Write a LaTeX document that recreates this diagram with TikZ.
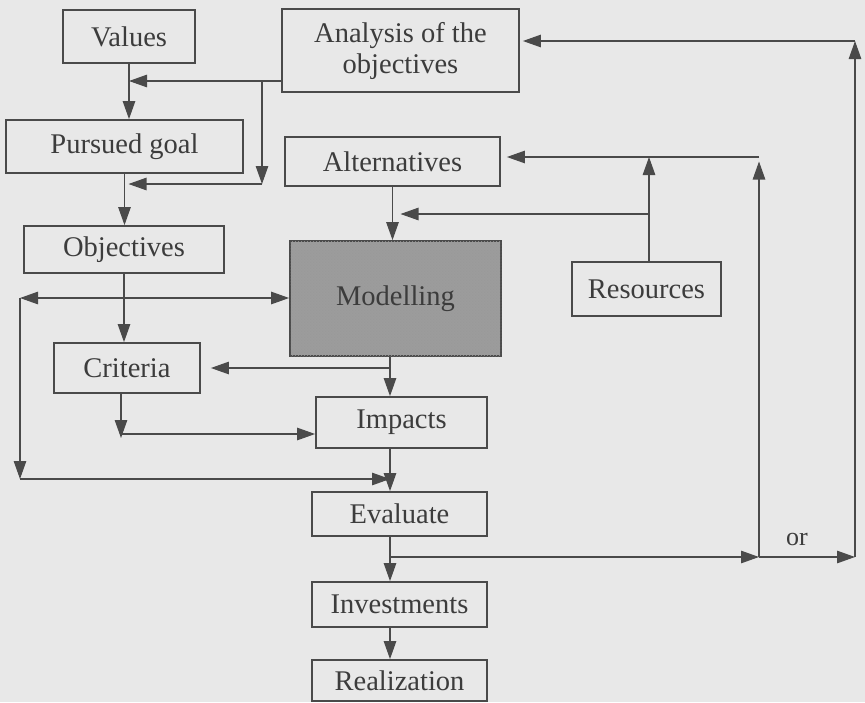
\documentclass[tikz,border=0pt]{standalone}
\usepackage{fontspec}
\setmainfont{Liberation Serif}
\usetikzlibrary{arrows.meta,patterns}

\definecolor{paper}{HTML}{E8E8E8}
\definecolor{ink}{HTML}{4A4A4A}
\definecolor{inktext}{HTML}{3C3C3C}
\definecolor{shade}{HTML}{9C9C9C}

\def \boxline {1.8pt}
\def \linkline {1.1pt}

\begin{document}
\begin{tikzpicture}[x=1pt, y=-1pt, >={Triangle[length=18pt,width=12.5pt]},
  box/.style={draw=ink, line width=\boxline, inner sep=0pt, align=center,
    text=inktext, font=\fontsize{28.5}{31}\selectfont},
  link/.style={->, draw=ink, line width=\linkline}]
\fill[paper] (0,0) rectangle (865,702);
\useasboundingbox (0,0) rectangle (865,702);

% boxes
\node[box, minimum width=132, minimum height=53] (vals) at (129,36.5) {Values};
\node[box, minimum width=237, minimum height=83] (ana) at (400.5,50.5) {Analysis of the\\objectives};
\node[box, minimum width=237, minimum height=53] (goal) at (124.5,146.5) {Pursued goal};
\node[box, minimum width=215, minimum height=49] (alt) at (392.5,161.5) {Alternatives};
\node[box, minimum width=200, minimum height=47] (obj) at (124,249.5) {Objectives};
\node[box, minimum width=211, minimum height=115, fill=shade,
  postaction={pattern=crosshatch dots, pattern color=black!40}] (mod) at (395.5,298.5) {Modelling};
\node[box, minimum width=149, minimum height=54] (res) at (646.5,289) {Resources};
\node[box, minimum width=146, minimum height=50] (crit) at (127,368) {Criteria};
\node[box, minimum width=171, minimum height=51] (imp) at (401.5,422.5) {Impacts};
\node[box, minimum width=175, minimum height=44] (eval) at (399.5,514) {Evaluate};
\node[box, minimum width=175, minimum height=45] (inv) at (399.5,604.5) {Investments};
\node[box, minimum width=175, minimum height=41] (real) at (399.5,680.5) {Realization};

% corner points
\coordinate (col) at (390,0);
\coordinate (a1) at (262,81);
\coordinate (a2) at (262,184);
\coordinate (l1) at (20,298);
\coordinate (l2) at (20,479);
\coordinate (k) at (121,434);
\coordinate (r1) at (649,157);
\coordinate (r2) at (649,214);
\coordinate (e1) at (390,557);
\coordinate (e2) at (759,557);
\coordinate (e3) at (855,557);
\coordinate (t) at (855,41);

% left column
\draw[link] (vals.south) -- (vals.south |- goal.north);
\draw[link] (ana.west |- a1) -- (vals.south |- a1);
\draw[link] (a1) -- (a2);
\draw[link] (a2) -- ([xshift=4]goal.south |- a2);
\draw[link] (goal.south) -- (goal.south |- obj.north);
\draw[link] (obj.south) -- (obj.south |- crit.north);
\draw[link, <->] (l1) -- (mod.west |- l1);
\draw[link] (l1) -- (l2);
\draw[link] (l2) -- (col |- l2);
\draw[link] (crit.south -| k) -- ([yshift=-4]k);
\draw[link] (k) -- (imp.west |- k);

% middle column
\draw[link] (alt.south) -- (alt.south |- mod.north);
\draw[link, shorten >=10pt] (col |- crit.east) -- (crit.east);
\draw[link] (mod.south -| col) -- (imp.north -| col);
\draw[link] (imp.south -| col) -- (eval.north -| col);
\draw[link] (eval.south -| col) -- (inv.north -| col);
\draw[link] (inv.south -| col) -- (real.north -| col);

% resources and feedback
\draw[link] (res.north -| r1) -- (r1);
\draw[link, shorten >=8pt] (r2) -- (alt.south |- r2);
\draw[link] (e1) -- (e2);
\draw[link] (e2) -- (e3);
\node[font=\fontsize{26}{28}\selectfont, text=inktext] (or) at (797,539) {or};
\draw[link] (e2) -- (e2 |- alt.east);
\draw[link, shorten >=6pt] (e2 |- r1) -- (alt.east |- r1);
\draw[link] (e3) -- (t);
\draw[link, shorten >=3pt] (t) -- (ana.east |- t);
\end{tikzpicture}
\end{document}
